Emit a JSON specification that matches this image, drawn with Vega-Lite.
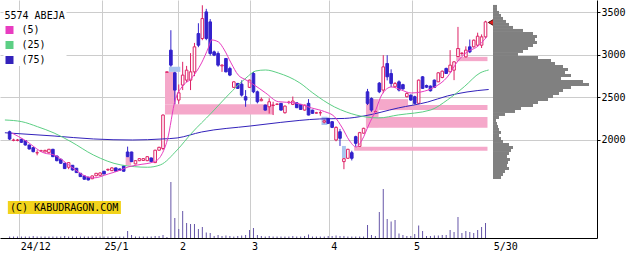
{
"$schema": "https://vega.github.io/schema/vega-lite/v6.json",
"width": 597, "height": 238,
"autosize": "none",
"padding": {"left": 0, "top": 0, "right": 43, "bottom": 17},
"background": "white",
"config": {"view": {"stroke": null}, "font": "DejaVu Sans Mono"},
"datasets": {
"candles": [
{"k":0,"o":2097,"h":2110,"l":2000,"c":2011},{"k":1,"o":1995,"h":2015,"l":1985,"c":2000},{"k":2,"o":1995,"h":2012,"l":1985,"c":2000},{"k":3,"o":2008,"h":2015,"l":1965,"c":1973},{"k":4,"o":1992,"h":1995,"l":1935,"c":1941},{"k":5,"o":1941,"h":1945,"l":1890,"c":1894},{"k":6,"o":1910,"h":1915,"l":1855,"c":1863},{"k":7,"o":1848,"h":1880,"l":1820,"c":1851},{"k":8,"o":1870,"h":1885,"l":1865,"c":1874},{"k":9,"o":1860,"h":1885,"l":1855,"c":1878},
{"k":10,"o":1851,"h":1895,"l":1840,"c":1891},{"k":11,"o":1891,"h":1895,"l":1800,"c":1804},{"k":12,"o":1812,"h":1815,"l":1750,"c":1757},{"k":13,"o":1774,"h":1778,"l":1720,"c":1727},{"k":14,"o":1727,"h":1730,"l":1660,"c":1664},{"k":15,"o":1680,"h":1740,"l":1657,"c":1734},{"k":16,"o":1703,"h":1705,"l":1640,"c":1648},{"k":17,"o":1668,"h":1672,"l":1612,"c":1617},{"k":18,"o":1609,"h":1612,"l":1565,"c":1570},{"k":19,"o":1578,"h":1582,"l":1535,"c":1539},
{"k":20,"o":1563,"h":1566,"l":1525,"c":1531},{"k":21,"o":1545,"h":1582,"l":1540,"c":1578},{"k":22,"o":1580,"h":1612,"l":1575,"c":1609},{"k":23,"o":1585,"h":1620,"l":1580,"c":1613},{"k":24,"o":1633,"h":1637,"l":1598,"c":1601},{"k":25,"o":1648,"h":1664,"l":1637,"c":1655},{"k":26,"o":1640,"h":1680,"l":1635,"c":1672},{"k":27,"o":1672,"h":1675,"l":1630,"c":1633},{"k":28,"o":1660,"h":1665,"l":1640,"c":1645},{"k":29,"o":1695,"h":1700,"l":1630,"c":1633},
{"k":30,"o":1859,"h":1922,"l":1800,"c":1804},{"k":31,"o":1859,"h":1862,"l":1740,"c":1746},{"k":32,"o":1719,"h":1762,"l":1715,"c":1757},{"k":33,"o":1757,"h":1785,"l":1752,"c":1781},{"k":34,"o":1760,"h":1786,"l":1755,"c":1781},{"k":35,"o":1757,"h":1808,"l":1752,"c":1804},{"k":36,"o":1789,"h":1792,"l":1740,"c":1746},{"k":37,"o":1734,"h":1885,"l":1730,"c":1880},{"k":38,"o":1880,"h":1920,"l":1875,"c":1914},{"k":39,"o":1900,"h":2300,"l":1880,"c":2293},
{"k":40,"o":2795,"h":2800,"l":2795,"c":2800},{"k":41,"o":3055,"h":3289,"l":2860,"c":2879},{"k":42,"o":2789,"h":2800,"l":2420,"c":2586},{"k":43,"o":2469,"h":2652,"l":2425,"c":2554},{"k":44,"o":2645,"h":2918,"l":2586,"c":2762},{"k":45,"o":2703,"h":2870,"l":2680,"c":2820},{"k":46,"o":2703,"h":3020,"l":2586,"c":2800},{"k":47,"o":2800,"h":3140,"l":2750,"c":3094},{"k":48,"o":3250,"h":3371,"l":3090,"c":3113},{"k":49,"o":3192,"h":3582,"l":3172,"c":3426},
{"k":50,"o":3504,"h":3540,"l":3172,"c":3192},{"k":51,"o":3387,"h":3420,"l":2990,"c":3016},{"k":52,"o":3035,"h":3050,"l":2985,"c":2996},{"k":53,"o":3016,"h":3040,"l":2860,"c":2879},{"k":54,"o":2870,"h":2890,"l":2800,"c":2879},{"k":55,"o":2957,"h":2960,"l":2795,"c":2800},{"k":56,"o":2840,"h":2860,"l":2750,"c":2762},{"k":57,"o":2618,"h":2690,"l":2610,"c":2683},{"k":58,"o":2664,"h":2670,"l":2600,"c":2606},{"k":59,"o":2656,"h":2700,"l":2510,"c":2527},
{"k":60,"o":2508,"h":2586,"l":2390,"c":2469},{"k":61,"o":2618,"h":2710,"l":2610,"c":2703},{"k":62,"o":2781,"h":2800,"l":2550,"c":2566},{"k":63,"o":2566,"h":2580,"l":2430,"c":2449},{"k":64,"o":2461,"h":2500,"l":2455,"c":2477},{"k":65,"o":2410,"h":2415,"l":2345,"c":2351},{"k":66,"o":2390,"h":2490,"l":2310,"c":2449},{"k":67,"o":2405,"h":2449,"l":2293,"c":2410},{"k":68,"o":2418,"h":2430,"l":2410,"c":2422},{"k":69,"o":2430,"h":2435,"l":2345,"c":2351},
{"k":70,"o":2320,"h":2405,"l":2310,"c":2398},{"k":71,"o":2440,"h":2460,"l":2420,"c":2445},{"k":72,"o":2418,"h":2510,"l":2410,"c":2457},{"k":73,"o":2437,"h":2440,"l":2375,"c":2379},{"k":74,"o":2418,"h":2420,"l":2355,"c":2359},{"k":75,"o":2351,"h":2415,"l":2345,"c":2410},{"k":76,"o":2430,"h":2480,"l":2290,"c":2293},{"k":77,"o":2351,"h":2355,"l":2310,"c":2313},{"k":78,"o":2315,"h":2330,"l":2310,"c":2320},{"k":79,"o":2320,"h":2340,"l":2285,"c":2320},
{"k":80,"o":2210,"h":2240,"l":2195,"c":2225},{"k":81,"o":2254,"h":2260,"l":2190,"c":2195},{"k":82,"o":2215,"h":2220,"l":2140,"c":2148},{"k":83,"o":2000,"h":2160,"l":1985,"c":2148},{"k":84,"o":2097,"h":2130,"l":1930,"c":2020},{"k":85,"o":1746,"h":1785,"l":1657,"c":1780},{"k":86,"o":1785,"h":1895,"l":1780,"c":1891},{"k":87,"o":1851,"h":1874,"l":1760,"c":1785},{"k":88,"o":2039,"h":2050,"l":1921,"c":1961},{"k":89,"o":1925,"h":2095,"l":1922,"c":2086},
{"k":90,"o":2080,"h":2144,"l":2075,"c":2137},{"k":91,"o":2566,"h":2600,"l":2410,"c":2430},{"k":92,"o":2488,"h":2500,"l":2330,"c":2351},{"k":93,"o":2332,"h":2345,"l":2330,"c":2335},{"k":94,"o":2668,"h":2680,"l":2550,"c":2566},{"k":95,"o":2586,"h":2996,"l":2550,"c":2859},{"k":96,"o":2898,"h":2996,"l":2700,"c":2742},{"k":97,"o":2781,"h":2830,"l":2620,"c":2664},{"k":98,"o":2625,"h":2680,"l":2615,"c":2664},{"k":99,"o":2683,"h":2700,"l":2570,"c":2586},
{"k":100,"o":2650,"h":2660,"l":2590,"c":2600},{"k":101,"o":2508,"h":2560,"l":2500,"c":2547},{"k":102,"o":2527,"h":2535,"l":2460,"c":2469},{"k":103,"o":2508,"h":2520,"l":2420,"c":2430},{"k":104,"o":2430,"h":2710,"l":2420,"c":2703},{"k":105,"o":2742,"h":2750,"l":2600,"c":2606},{"k":106,"o":2640,"h":2650,"l":2610,"c":2620},{"k":107,"o":2633,"h":2640,"l":2570,"c":2578},{"k":108,"o":2703,"h":2710,"l":2610,"c":2618},{"k":109,"o":2683,"h":2795,"l":2680,"c":2789},
{"k":110,"o":2734,"h":2815,"l":2725,"c":2808},{"k":111,"o":2840,"h":2850,"l":2775,"c":2781},{"k":112,"o":2800,"h":3055,"l":2795,"c":2879},{"k":113,"o":2820,"h":2925,"l":2703,"c":2918},{"k":114,"o":2980,"h":3328,"l":2976,"c":3074},{"k":115,"o":3016,"h":3030,"l":2990,"c":3020},{"k":116,"o":2976,"h":3100,"l":2970,"c":3055},{"k":117,"o":3094,"h":3180,"l":3020,"c":3035},{"k":118,"o":3094,"h":3180,"l":3085,"c":3172},{"k":119,"o":3113,"h":3260,"l":3100,"c":3219},
{"k":120,"o":3113,"h":3240,"l":3080,"c":3211},{"k":121,"o":3211,"h":3400,"l":3200,"c":3387}
],
"ma": [
{"ma":"(75)","k":-1.2,"p":2085},{"ma":"(75)","k":11.3,"p":2047},{"ma":"(75)","k":21.3,"p":2012},{"ma":"(75)","k":31.3,"p":2000},{"ma":"(75)","k":38.8,"p":2012},{"ma":"(75)","k":42.6,"p":2024},{"ma":"(75)","k":48.8,"p":2094},{"ma":"(75)","k":61.3,"p":2165},{"ma":"(75)","k":68.8,"p":2206},{"ma":"(75)","k":78.8,"p":2247},{"ma":"(75)","k":85.1,"p":2253},{"ma":"(75)","k":90.1,"p":2282},{"ma":"(75)","k":98.8,"p":2376},{"ma":"(75)","k":106.3,"p":2446},{"ma":"(75)","k":111.3,"p":2517},{"ma":"(75)","k":116.3,"p":2564},{"ma":"(75)","k":121.8,"p":2593},
{"ma":"(25)","k":-1.2,"p":2235},{"ma":"(25)","k":3.1,"p":2215},{"ma":"(25)","k":7.1,"p":2156},{"ma":"(25)","k":11.3,"p":2082},{"ma":"(25)","k":15.6,"p":1980},{"ma":"(25)","k":21.3,"p":1824},{"ma":"(25)","k":28.3,"p":1707},{"ma":"(25)","k":35.1,"p":1680},{"ma":"(25)","k":38.3,"p":1707},{"ma":"(25)","k":42.6,"p":1883},{"ma":"(25)","k":46.3,"p":2082},{"ma":"(25)","k":51.3,"p":2317},{"ma":"(25)","k":55.6,"p":2529},{"ma":"(25)","k":60.1,"p":2728},{"ma":"(25)","k":62.6,"p":2811},{"ma":"(25)","k":65.1,"p":2822},{"ma":"(25)","k":68.3,"p":2787},{"ma":"(25)","k":73.8,"p":2670},{"ma":"(25)","k":77.1,"p":2552},{"ma":"(25)","k":82.6,"p":2388},{"ma":"(25)","k":85.6,"p":2329},{"ma":"(25)","k":90.6,"p":2270},{"ma":"(25)","k":93.8,"p":2259},{"ma":"(25)","k":98.8,"p":2294},{"ma":"(25)","k":107.1,"p":2353},{"ma":"(25)","k":111.3,"p":2470},{"ma":"(25)","k":115.6,"p":2626},{"ma":"(25)","k":119.6,"p":2787},{"ma":"(25)","k":121.8,"p":2822},
{"ma":"(5)","k":0.6,"p":2082},{"ma":"(5)","k":3.8,"p":2000},{"ma":"(5)","k":8.8,"p":1847},{"ma":"(5)","k":11.3,"p":1824},{"ma":"(5)","k":15.6,"p":1687},{"ma":"(5)","k":19.6,"p":1569},{"ma":"(5)","k":21.3,"p":1554},{"ma":"(5)","k":25.1,"p":1601},{"ma":"(5)","k":28.3,"p":1648},{"ma":"(5)","k":30.1,"p":1683},{"ma":"(5)","k":32.6,"p":1707},{"ma":"(5)","k":36.8,"p":1745},{"ma":"(5)","k":38.6,"p":1824},{"ma":"(5)","k":40.1,"p":2000},{"ma":"(5)","k":42.1,"p":2470},{"ma":"(5)","k":43.8,"p":2623},{"ma":"(5)","k":46.3,"p":2728},{"ma":"(5)","k":48.8,"p":2905},{"ma":"(5)","k":50.6,"p":3092},{"ma":"(5)","k":51.3,"p":3175},{"ma":"(5)","k":53.1,"p":3151},{"ma":"(5)","k":54.6,"p":3057},{"ma":"(5)","k":56.3,"p":2905},{"ma":"(5)","k":58.1,"p":2764},{"ma":"(5)","k":60.1,"p":2705},{"ma":"(5)","k":61.8,"p":2658},{"ma":"(5)","k":65.1,"p":2552},{"ma":"(5)","k":68.3,"p":2450},{"ma":"(5)","k":72.6,"p":2435},{"ma":"(5)","k":76.8,"p":2376},{"ma":"(5)","k":80.1,"p":2333},{"ma":"(5)","k":82.6,"p":2274},{"ma":"(5)","k":84.6,"p":2141},{"ma":"(5)","k":86.3,"p":2000},{"ma":"(5)","k":88.1,"p":1918},{"ma":"(5)","k":89.6,"p":2000},{"ma":"(5)","k":91.3,"p":2176},{"ma":"(5)","k":93.1,"p":2353},{"ma":"(5)","k":94.6,"p":2529},{"ma":"(5)","k":97.1,"p":2623},{"ma":"(5)","k":99.6,"p":2587},{"ma":"(5)","k":102.1,"p":2552},{"ma":"(5)","k":104.6,"p":2564},{"ma":"(5)","k":108.1,"p":2623},{"ma":"(5)","k":111.3,"p":2740},{"ma":"(5)","k":113.8,"p":2916},{"ma":"(5)","k":116.3,"p":3034},{"ma":"(5)","k":118.8,"p":3092},{"ma":"(5)","k":121.3,"p":3210}
],
"gaps": [
{"kind":"up","k1":29.5,"k2":30.9,"lo":1700,"hi":1800},
{"kind":"up","k1":39.5,"k2":42.2,"lo":2420,"hi":2800},
{"kind":"up","k1":39.5,"k2":67,"lo":2300,"hi":2420},
{"kind":"down","k1":40.5,"k2":43.4,"lo":2800,"hi":2860},
{"kind":"down","k1":79.3,"k2":80.8,"lo":2176,"hi":2273},
{"kind":"down","k1":84.5,"k2":85.5,"lo":1785,"hi":1930},
{"kind":"up","k1":87.6,"k2":121.5,"lo":1874,"hi":1921},
{"kind":"up","k1":90.6,"k2":93.8,"lo":2150,"hi":2480},
{"kind":"up","k1":90.6,"k2":121.5,"lo":2144,"hi":2270},
{"kind":"up","k1":93.8,"k2":101.3,"lo":2351,"hi":2480},
{"kind":"up","k1":101.3,"k2":121.5,"lo":2351,"hi":2410},
{"kind":"up","k1":113.6,"k2":114.6,"lo":2926,"hi":3080},
{"kind":"up","k1":113.6,"k2":121.5,"lo":2926,"hi":2976}
],
"vol": [
{"k":0,"v":150},{"k":1,"v":150},{"k":2,"v":150},{"k":3,"v":150},{"k":4,"v":150},{"k":5,"v":150},{"k":6,"v":200},{"k":7,"v":150},{"k":8,"v":150},{"k":9,"v":150},{"k":10,"v":150},{"k":11,"v":150},{"k":12,"v":150},{"k":13,"v":150},{"k":14,"v":200},{"k":15,"v":150},{"k":16,"v":150},{"k":17,"v":150},{"k":18,"v":150},{"k":19,"v":150},{"k":20,"v":150},{"k":21,"v":150},{"k":22,"v":150},{"k":23,"v":150},{"k":24,"v":150},{"k":25,"v":150},{"k":26,"v":150},{"k":27,"v":150},{"k":28,"v":150},{"k":29,"v":150},
{"k":30,"v":700},{"k":31,"v":300},{"k":32,"v":150},{"k":33,"v":150},{"k":34,"v":150},{"k":35,"v":150},{"k":36,"v":150},{"k":37,"v":200},{"k":38,"v":200},{"k":39,"v":300},{"k":40,"v":100},{"k":41,"v":5600},{"k":42,"v":2000},{"k":43,"v":900},{"k":44,"v":2700},{"k":45,"v":1500},{"k":46,"v":1400},{"k":47,"v":1400},{"k":48,"v":900},{"k":49,"v":1100},
{"k":50,"v":550},{"k":51,"v":500},{"k":52,"v":200},{"k":53,"v":300},{"k":54,"v":200},{"k":55,"v":250},{"k":56,"v":200},{"k":57,"v":150},{"k":58,"v":200},{"k":59,"v":250},{"k":60,"v":300},{"k":61,"v":800},{"k":62,"v":1000},{"k":63,"v":300},{"k":64,"v":200},{"k":65,"v":150},{"k":66,"v":200},{"k":67,"v":150},{"k":68,"v":150},{"k":69,"v":150},
{"k":70,"v":150},{"k":71,"v":150},{"k":72,"v":200},{"k":73,"v":150},{"k":74,"v":150},{"k":75,"v":200},{"k":76,"v":350},{"k":77,"v":150},{"k":78,"v":150},{"k":79,"v":150},{"k":80,"v":150},{"k":81,"v":200},{"k":82,"v":200},{"k":83,"v":250},{"k":84,"v":200},{"k":85,"v":200},{"k":86,"v":150},{"k":87,"v":150},{"k":88,"v":150},{"k":89,"v":150},
{"k":90,"v":150},{"k":91,"v":1300},{"k":92,"v":300},{"k":93,"v":200},{"k":94,"v":2600},{"k":95,"v":4900},{"k":96,"v":1900},{"k":97,"v":1650},{"k":98,"v":1800},{"k":99,"v":450},{"k":100,"v":300},{"k":101,"v":200},{"k":102,"v":200},{"k":103,"v":400},{"k":104,"v":1250},{"k":105,"v":700},{"k":106,"v":200},{"k":107,"v":200},{"k":108,"v":250},{"k":109,"v":250},
{"k":110,"v":300},{"k":111,"v":300},{"k":112,"v":800},{"k":113,"v":600},{"k":114,"v":2100},{"k":115,"v":500},{"k":116,"v":700},{"k":117,"v":600},{"k":118,"v":500},{"k":119,"v":800},{"k":120,"v":1100},{"k":121,"v":1500}
],
"prof": [
{"lo":3550.5,"hi":3586,"v":4},{"lo":3515.3,"hi":3550.5,"v":4},{"lo":3480,"hi":3515.3,"v":6},{"lo":3444.8,"hi":3480,"v":8},{"lo":3409.6,"hi":3444.8,"v":10},{"lo":3374.4,"hi":3409.6,"v":13},{"lo":3339.1,"hi":3374.4,"v":16},{"lo":3303.9,"hi":3339.1,"v":20},{"lo":3268.7,"hi":3303.9,"v":30},{"lo":3233.4,"hi":3268.7,"v":40},
{"lo":3198.2,"hi":3233.4,"v":44},{"lo":3163,"hi":3198.2,"v":42},{"lo":3127.7,"hi":3163,"v":44},{"lo":3092.5,"hi":3127.7,"v":40},{"lo":3057.3,"hi":3092.5,"v":35},{"lo":3022,"hi":3057.3,"v":30},{"lo":2986.8,"hi":3022,"v":25},{"lo":2951.5,"hi":2986.8,"v":45},{"lo":2916.3,"hi":2951.5,"v":58},{"lo":2881.1,"hi":2916.3,"v":62},
{"lo":2845.8,"hi":2881.1,"v":70},{"lo":2810.6,"hi":2845.8,"v":75},{"lo":2775.4,"hi":2810.6,"v":72},{"lo":2740.1,"hi":2775.4,"v":78},{"lo":2704.9,"hi":2740.1,"v":68},{"lo":2669.7,"hi":2704.9,"v":90},{"lo":2634.4,"hi":2669.7,"v":96},{"lo":2599.2,"hi":2634.4,"v":78},{"lo":2563.9,"hi":2599.2,"v":70},{"lo":2528.7,"hi":2563.9,"v":66},
{"lo":2493.5,"hi":2528.7,"v":60},{"lo":2458.2,"hi":2493.5,"v":55},{"lo":2423,"hi":2458.2,"v":45},{"lo":2387.8,"hi":2423,"v":40},{"lo":2352.5,"hi":2387.8,"v":28},{"lo":2317.3,"hi":2352.5,"v":22},{"lo":2282.1,"hi":2317.3,"v":12},{"lo":2246.8,"hi":2282.1,"v":6},{"lo":2211.6,"hi":2246.8,"v":3},{"lo":2176.4,"hi":2211.6,"v":4},
{"lo":2141.1,"hi":2176.4,"v":5},{"lo":2105.9,"hi":2141.1,"v":6},{"lo":2070.7,"hi":2105.9,"v":8},{"lo":2035.4,"hi":2070.7,"v":6},{"lo":2000.2,"hi":2035.4,"v":8},{"lo":1965,"hi":2000.2,"v":10},{"lo":1929.7,"hi":1965,"v":16},{"lo":1894.5,"hi":1929.7,"v":20},{"lo":1859.3,"hi":1894.5,"v":18},{"lo":1824,"hi":1859.3,"v":16},
{"lo":1788.8,"hi":1824,"v":14},{"lo":1753.5,"hi":1788.8,"v":17},{"lo":1718.3,"hi":1753.5,"v":15},{"lo":1683.1,"hi":1718.3,"v":14},{"lo":1647.8,"hi":1683.1,"v":16},{"lo":1612.6,"hi":1647.8,"v":12},{"lo":1577.4,"hi":1612.6,"v":10},{"lo":1542.1,"hi":1577.4,"v":8}
]
},
"resolve": {"scale": {"x": "independent", "y": "independent"}},
"layer": [
{
"layer": [
{"data": {"name": "gaps"}, "mark": {"type": "rect"},
 "encoding": {
  "x": {"field": "k1", "type": "quantitative", "scale": {"domain": [-1.175, 148.075], "nice": false, "zero": false},
   "axis": {"values": [2.33, 23.6, 42.8, 61.1, 81.3, 102.3, 122.6], "labelExpr": "datum.value < 10 ? '24/12' : datum.value < 30 ? '25/1' : datum.value < 50 ? '2' : datum.value < 70 ? '3' : datum.value < 90 ? '4' : datum.value < 110 ? '5' : '5/30'",
    "title": null, "grid": true, "gridColor": {"condition": {"test": "datum.value > 110", "value": "rgba(0,0,0,0)"}, "value": "#cccccc"},
    "tickSize": 0, "labelPadding": 3, "labelAlign": "left", "labelOffset": 1.5, "labelFlush": false, "labelOverlap": false, "labelBound": false,
    "domainColor": "#000000", "labelColor": "#000000", "labelFont": "DejaVu Sans Mono", "labelFontSize": 10, "labelBaseline": "top"}},
  "x2": {"field": "k2"},
  "y": {"field": "lo", "type": "quantitative", "scale": {"domain": [849, 3644], "nice": false, "zero": false},
   "axis": {"orient": "right", "values": [2000, 2500, 3000, 3500], "format": "d", "title": null, "grid": true, "gridColor": "#cccccc",
    "tickSize": 3, "tickColor": "#000000", "labelPadding": 1, "domainColor": "#000000", "labelColor": "#000000", "labelFont": "DejaVu Sans Mono", "labelFontSize": 10}},
  "y2": {"field": "hi"},
  "fill": {"field": "kind", "type": "nominal", "scale": {"domain": ["up", "down"], "range": ["#f5a8ca", "#a9c5ee"]}, "legend": null}
 }},
{"data": {"name": "candles"}, "transform": [{"filter": "datum.c >= datum.o"}], "mark": {"type": "rule", "color": "#dd2266", "strokeWidth": 1},
 "encoding": {"x": {"field": "k", "type": "quantitative"}, "y": {"field": "l", "type": "quantitative"}, "y2": {"field": "h"}}},
{"data": {"name": "candles"}, "transform": [{"filter": "datum.c < datum.o"}], "mark": {"type": "rule", "color": "#3322cc", "strokeWidth": 1},
 "encoding": {"x": {"field": "k", "type": "quantitative"}, "y": {"field": "l", "type": "quantitative"}, "y2": {"field": "h"}}},
{"data": {"name": "candles"}, "transform": [{"filter": "datum.c >= datum.o"}], "mark": {"type": "bar", "width": 2.6, "fill": "white", "stroke": "#dd2266", "strokeWidth": 1},
 "encoding": {"x": {"field": "k", "type": "quantitative"}, "y": {"field": "o", "type": "quantitative"}, "y2": {"field": "c"}}},
{"data": {"name": "candles"}, "transform": [{"filter": "datum.c < datum.o"}], "mark": {"type": "bar", "width": 2.6, "fill": "#3322cc", "stroke": "#3322cc", "strokeWidth": 1},
 "encoding": {"x": {"field": "k", "type": "quantitative"}, "y": {"field": "o", "type": "quantitative"}, "y2": {"field": "c"}}},
{"data": {"name": "ma"}, "mark": {"type": "line", "strokeWidth": 1, "interpolate": "monotone"},
 "encoding": {"x": {"field": "k", "type": "quantitative"}, "y": {"field": "p", "type": "quantitative"}, "order": {"field": "k", "type": "quantitative"},
  "color": {"field": "ma", "type": "nominal", "scale": {"domain": ["(5)", "(25)", "(75)"], "range": ["#e83cc0", "#5ccf84", "#3322bb"]},
   "legend": {"title": "5574 ABEJA", "orient": "none", "legendX": 3.5, "legendY": 10, "symbolType": "square", "symbolSize": 64, "fillColor": "white", "padding": 1,
    "titleFont": "DejaVu Sans Mono", "titleFontSize": 10, "titleFontWeight": "normal", "titleColor": "#000000", "titlePadding": 4,
    "labelFont": "DejaVu Sans Mono", "labelFontSize": 10, "labelColor": "#000000", "labelOffset": 7, "rowPadding": 5,
    "encode": {"symbols": {"update": {"fill": {"signal": "scale('color', datum.value)"}, "stroke": {"value": "transparent"}, "strokeWidth": {"value": 0}}}}}}}},
{"data": {"values": [{"k": 122.4, "p": 3380}]}, "mark": {"type": "point", "shape": "triangle-left", "filled": true, "fill": "#e02020", "stroke": "#551111", "strokeWidth": 1, "size": 40, "opacity": 1},
 "encoding": {"x": {"field": "k", "type": "quantitative"}, "y": {"field": "p", "type": "quantitative"}}},
{"data": {"values": [{"k1": -0.45, "k2": 28.3, "lo": 1131, "hi": 1284}]}, "mark": {"type": "rect", "color": "#f2d31b"},
 "encoding": {"x": {"field": "k1", "type": "quantitative"}, "x2": {"field": "k2"}, "y": {"field": "lo", "type": "quantitative"}, "y2": {"field": "hi"}}},
{"data": {"values": [{"k": 0.1, "p": 1207, "t": "(C) KABUDRAGON.COM"}]}, "mark": {"type": "text", "align": "left", "baseline": "middle", "font": "DejaVu Sans Mono", "fontSize": 10, "color": "#000000"},
 "encoding": {"x": {"field": "k", "type": "quantitative"}, "y": {"field": "p", "type": "quantitative"}, "text": {"field": "t"}}}
]
},
{"data": {"name": "vol"}, "mark": {"type": "bar", "color": "#6656a8", "width": 1},
 "encoding": {"x": {"field": "k", "type": "quantitative", "scale": {"domain": [-1.175, 148.075], "nice": false, "zero": false}, "axis": null},
  "y": {"field": "v", "type": "quantitative", "scale": {"domain": [0, 23800], "nice": false}, "axis": null}}},
{"data": {"name": "prof"}, "mark": {"type": "rect", "color": "#808080"},
 "encoding": {"x": {"field": "v", "type": "quantitative", "scale": {"domain": [0, 104], "range": [493, 597], "nice": false, "zero": true}, "axis": null},
  "x2": {"datum": 0},
  "y": {"field": "lo", "type": "quantitative", "scale": {"domain": [849, 3644], "nice": false, "zero": false}, "axis": null}, "y2": {"field": "hi"}}}
]
}
